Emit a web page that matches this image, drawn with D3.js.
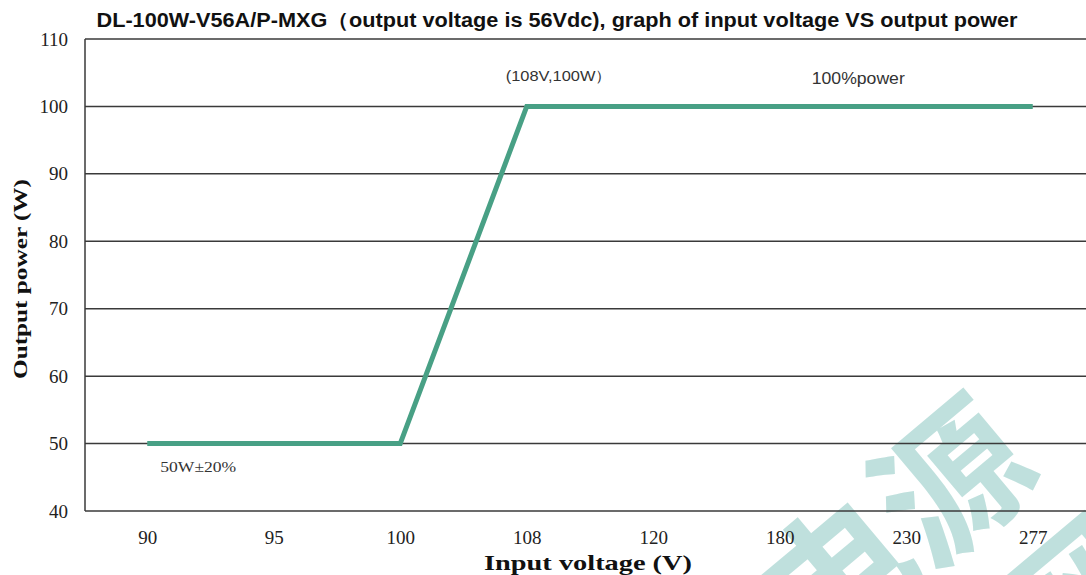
<!DOCTYPE html>
<html>
<head>
<meta charset="utf-8">
<script src="https://cdn.jsdelivr.net/npm/d3@7"></script>
<style>
  body { margin: 0; background: #fff; }
  svg { display: block; }
</style>
</head>
<body>
<script>
// chart data
const voltages = ["90", "95", "100", "108", "120", "180", "230", "277"];
const powers = [50, 50, 50, 100, 100, 100, 100, 100];
const yTicks = [40, 50, 60, 70, 80, 90, 100, 110];
const chartTitle = "DL-100W-V56A/P-MXG（output voltage is 56Vdc), graph of input voltage VS output power";
const notes = [
    { cat: "108", val: 100, text: "(108V,100W）" },
    { cat: "180", val: 100, text: "100%power" },
    { cat: "90", val: 50, text: "50W±20%" }
];

const wSvg = 1086;
const hSvg = 575;
const plotLeft = 84;
const plotRight = 1096;
const plotTop = 39;
const plotBottom = 511;

let svg = d3.select("body")
    .append("svg")
    .attr("width", wSvg)
    .attr("height", hSvg);

// watermark behind everything
let wm = svg.append("g")
    .attr("fill", "#bfe0dd")
    .attr("font-family", "Noto Sans CJK SC")
    .attr("font-weight", "bold")
    .attr("font-size", 150);
wm.append("text")
    .attr("transform", "translate(815,668) rotate(-40)")
    .text("电源");
wm.append("text")
    .attr("transform", "translate(1055,690) rotate(-40)")
    .text("网");

let xScale = d3.scalePoint(voltages, [plotLeft, plotRight]).padding(0.5);
let yScale = d3.scaleLinear([40, 110], [plotBottom, plotTop]);

// gridlines
svg.append("g")
    .selectAll("line")
    .data(yTicks)
    .enter()
    .append("line")
    .attr("x1", plotLeft + 1)
    .attr("x2", wSvg)
    .attr("y1", d => yScale(d))
    .attr("y2", d => yScale(d))
    .attr("stroke", "#3a3a3a")
    .attr("stroke-width", 1.5);

svg.append("line")
    .attr("x1", plotLeft + 1)
    .attr("x2", plotLeft + 1)
    .attr("y1", plotTop)
    .attr("y2", plotBottom)
    .attr("stroke", "#3a3a3a")
    .attr("stroke-width", 1.5);

// y axis labels
let yAxis = d3.axisLeft(yScale).tickValues(yTicks).tickSize(0).tickPadding(16);
let yg = svg.append("g")
    .attr("transform", `translate(${plotLeft}, 0)`)
    .call(yAxis);
yg.select(".domain").remove();
yg.selectAll("text")
    .attr("font-family", "Liberation Serif")
    .attr("font-size", 19)
    .attr("fill", "#222");

// x axis labels
let xAxis = d3.axisBottom(xScale).tickSize(0).tickPadding(20);
let xg = svg.append("g")
    .attr("transform", `translate(0, ${plotBottom})`)
    .call(xAxis);
xg.select(".domain").remove();
xg.selectAll("text")
    .attr("font-family", "Liberation Serif")
    .attr("font-size", 19)
    .attr("fill", "#222");

// the power line
const dMaker = d3.line()
    .x((d, i) => xScale(voltages[i]))
    .y(d => yScale(d));

svg.append("path")
    .attr("d", dMaker(powers))
    .attr("fill", "none")
    .attr("stroke", "#48a085")
    .attr("stroke-width", 5)
    .attr("stroke-linejoin", "miter");

// annotations
svg.append("text")
    .attr("x", xScale(notes[0].cat) - 21)
    .attr("y", yScale(notes[0].val) - 25)
    .attr("font-family", "Liberation Sans")
    .attr("font-size", 15)
    .attr("fill", "#333")
    .attr("textLength", 106)
    .attr("lengthAdjust", "spacingAndGlyphs")
    .text(notes[0].text);

svg.append("text")
    .attr("x", xScale(notes[1].cat) + 32)
    .attr("y", yScale(notes[1].val) - 22)
    .attr("font-family", "Liberation Sans")
    .attr("font-size", 16)
    .attr("fill", "#333")
    .attr("textLength", 93)
    .attr("lengthAdjust", "spacingAndGlyphs")
    .text(notes[1].text);

svg.append("text")
    .attr("x", xScale(notes[2].cat) + 13)
    .attr("y", yScale(notes[2].val) + 28)
    .attr("font-family", "Liberation Serif")
    .attr("font-size", 15)
    .attr("fill", "#333")
    .attr("textLength", 76)
    .attr("lengthAdjust", "spacingAndGlyphs")
    .text(notes[2].text);

// titles
svg.append("text")
    .attr("x", 557)
    .attr("y", 27)
    .attr("text-anchor", "middle")
    .attr("font-family", "Liberation Sans")
    .attr("font-weight", "bold")
    .attr("font-size", 20)
    .attr("fill", "#111")
    .attr("textLength", 921)
    .attr("lengthAdjust", "spacingAndGlyphs")
    .text(chartTitle);

svg.append("text")
    .attr("x", 588)
    .attr("y", 570)
    .attr("text-anchor", "middle")
    .attr("font-family", "Liberation Serif")
    .attr("font-weight", "bold")
    .attr("font-size", 21)
    .attr("fill", "#111")
    .attr("textLength", 208)
    .attr("lengthAdjust", "spacingAndGlyphs")
    .text("Input voltage (V)");

svg.append("text")
    .attr("transform", "translate(27, 279) rotate(-90)")
    .attr("text-anchor", "middle")
    .attr("font-family", "Liberation Serif")
    .attr("font-weight", "bold")
    .attr("font-size", 19)
    .attr("fill", "#111")
    .attr("textLength", 200)
    .attr("lengthAdjust", "spacingAndGlyphs")
    .text("Output power (W)");
</script>
</body>
</html>
